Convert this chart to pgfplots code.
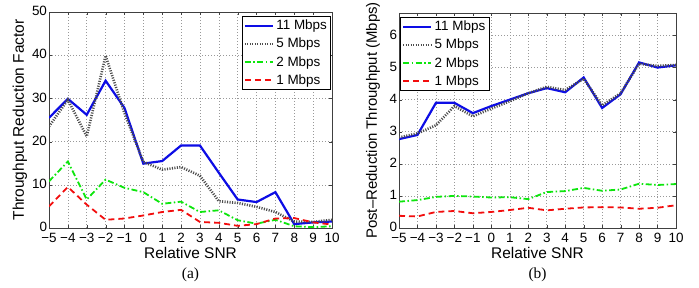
\documentclass[border=0pt]{standalone}
\usepackage{pgfplots}
\pgfplotsset{compat=1.18}
\usepackage{fontspec}
\setmainfont{Liberation Sans}
\newfontfamily\capfont{Liberation Serif}
\definecolor{mblue}{rgb}{0.05,0.05,0.9}
\definecolor{mgreen}{rgb}{0.05,0.9,0.05}
\definecolor{mred}{rgb}{0.95,0.05,0.05}
\definecolor{mgray}{rgb}{0.3,0.3,0.3}
\pgfplotsset{
  s11/.style={mblue, line width=2.2bp, solid},
  s5/.style={mgray, line width=2.6bp, dash pattern=on 1.1bp off 1.4bp},
  s2/.style={mgreen, line width=1.8bp, dash pattern=on 6bp off 2.5bp on 1.5bp off 2.5bp},
  s1/.style={mred, line width=1.8bp, dash pattern=on 6bp off 4bp},
  mystyle/.style={
    scale only axis,
    xmin=-5, xmax=10,
    xtick={-5,-4,-3,-2,-1,0,1,2,3,4,5,6,7,8,9,10},
    xticklabels={−5,−4,−3,−2,−1,0,1,2,3,4,5,6,7,8,9,10},
    grid=major,
    major grid style={gray!80, dash pattern=on 0.8bp off 2.2bp, line width=0.5bp},
    tick align=inside,
    major tick length=3bp,
    axis line style={black!75, line width=0.6bp},
    tick style={black!75},
    /pgf/number format/assume math mode=true,
    tick label style={font=\fontsize{13.5}{15}\selectfont},
    xticklabel style={yshift=-2bp},
    yticklabel style={xshift=1.5bp, yshift=1bp},
    every axis x label/.style={at={(axis description cs:0.5,-0.116)}, anchor=center, font=\fontsize{15.5}{17}\selectfont},
    legend cell align=left,
    legend style={font=\fontsize{13.5}{15}\selectfont, draw=black, line width=0.8bp,
      inner sep=1.5bp, row sep=2.5bp,
      nodes={inner sep=2.2bp}},
    legend image code/.code={\draw[#1] (0bp,0bp) -- (28bp,0bp);},
  }
}
\begin{document}
\begin{tikzpicture}
\useasboundingbox (0,0) rectangle (699bp,288bp);
% ---------------- (a)
\begin{axis}[mystyle, name=pa,
  at={(49bp,60bp)}, anchor=south west,
  width=283bp, height=216bp,
  ymin=0, ymax=50, ytick={0,10,20,30,40,50},
  xlabel={Relative SNR},
  ylabel={Throughput Reduction Factor},
  every axis y label/.style={at={(axis description cs:-0.1025,0.5)}, rotate=90, anchor=center, font=\fontsize{15.5}{17}\selectfont},
  legend style={at={(1,1)}, anchor=north east, xshift=-1bp, yshift=-4bp},
]
\addplot[s11] coordinates {(-5,25.5)(-4,29.9)(-3,26.2)(-2,34.1)(-1,27.8)(0,14.9)(1,15.5)(2,19.1)(3,19.1)(4,12.8)(5,6.6)(6,6.0)(7,8.3)(8,0.9)(9,1.3)(10,1.5)};
\addlegendentry{11 Mbps}
\addplot[s5] coordinates {(-5,23.5)(-4,29.7)(-3,21.2)(-2,39.9)(-1,26.6)(0,15.3)(1,13.5)(2,14.1)(3,12.1)(4,6.2)(5,5.8)(6,4.9)(7,3.7)(8,1.5)(9,1.4)(10,1.9)};
\addlegendentry{5 Mbps}
\addplot[s2] coordinates {(-5,10.8)(-4,15.4)(-3,6.6)(-2,11.2)(-1,9.3)(0,8.3)(1,5.6)(2,6.1)(3,3.7)(4,4.1)(5,1.8)(6,1.0)(7,1.9)(8,0.4)(9,0.2)(10,0.4)};
\addlegendentry{2 Mbps}
\addplot[s1] coordinates {(-5,5.0)(-4,9.5)(-3,5.4)(-2,1.9)(-1,2.2)(0,2.9)(1,3.7)(2,4.2)(3,1.4)(4,1.2)(5,0.5)(6,0.9)(7,2.2)(8,2.3)(9,1.3)(10,0.8)};
\addlegendentry{1 Mbps}
\end{axis}
\node[font=\capfont\fontsize{15.5}{17}\selectfont] at ([yshift=-47bp]pa.south) {(a)};
% ---------------- (b)
\begin{axis}[mystyle, name=pb,
  at={(399bp,60bp)}, anchor=south west,
  width=277bp, height=215bp,
  ymin=0, ymax=6.7, ytick={0,1,2,3,4,5,6},
  xlabel={Relative SNR},
  ylabel={Post--Reduction Throughput (Mbps)},
  every axis y label/.style={at={(axis description cs:-0.094,0.5)}, rotate=90, anchor=center, font=\fontsize{15}{17}\selectfont},
  legend style={at={(0,1)}, anchor=north west, xshift=1bp, yshift=-4bp},
]
\addplot[s11] coordinates {(-5,2.77)(-4,2.9)(-3,3.9)(-2,3.9)(-1,3.58)(0,3.8)(1,4.0)(2,4.2)(3,4.36)(4,4.23)(5,4.69)(6,3.74)(7,4.17)(8,5.16)(9,5.0)(10,5.07)};
\addlegendentry{11 Mbps}
\addplot[s5] coordinates {(-5,2.82)(-4,2.95)(-3,3.2)(-2,3.8)(-1,3.48)(0,3.72)(1,3.95)(2,4.2)(3,4.4)(4,4.3)(5,4.65)(6,3.82)(7,4.2)(8,5.12)(9,5.05)(10,5.08)};
\addlegendentry{5 Mbps}
\addplot[s2] coordinates {(-5,0.82)(-4,0.87)(-3,0.97)(-2,1.0)(-1,0.98)(0,0.95)(1,0.96)(2,0.9)(3,1.12)(4,1.15)(5,1.25)(6,1.16)(7,1.2)(8,1.38)(9,1.34)(10,1.37)};
\addlegendentry{2 Mbps}
\addplot[s1] coordinates {(-5,0.38)(-4,0.36)(-3,0.5)(-2,0.53)(-1,0.46)(0,0.5)(1,0.56)(2,0.63)(3,0.55)(4,0.6)(5,0.64)(6,0.65)(7,0.64)(8,0.6)(9,0.63)(10,0.71)};
\addlegendentry{1 Mbps}
\end{axis}
\node[font=\capfont\fontsize{15.5}{17}\selectfont] at ([yshift=-47bp]pb.south) {(b)};
\end{tikzpicture}
\end{document}
